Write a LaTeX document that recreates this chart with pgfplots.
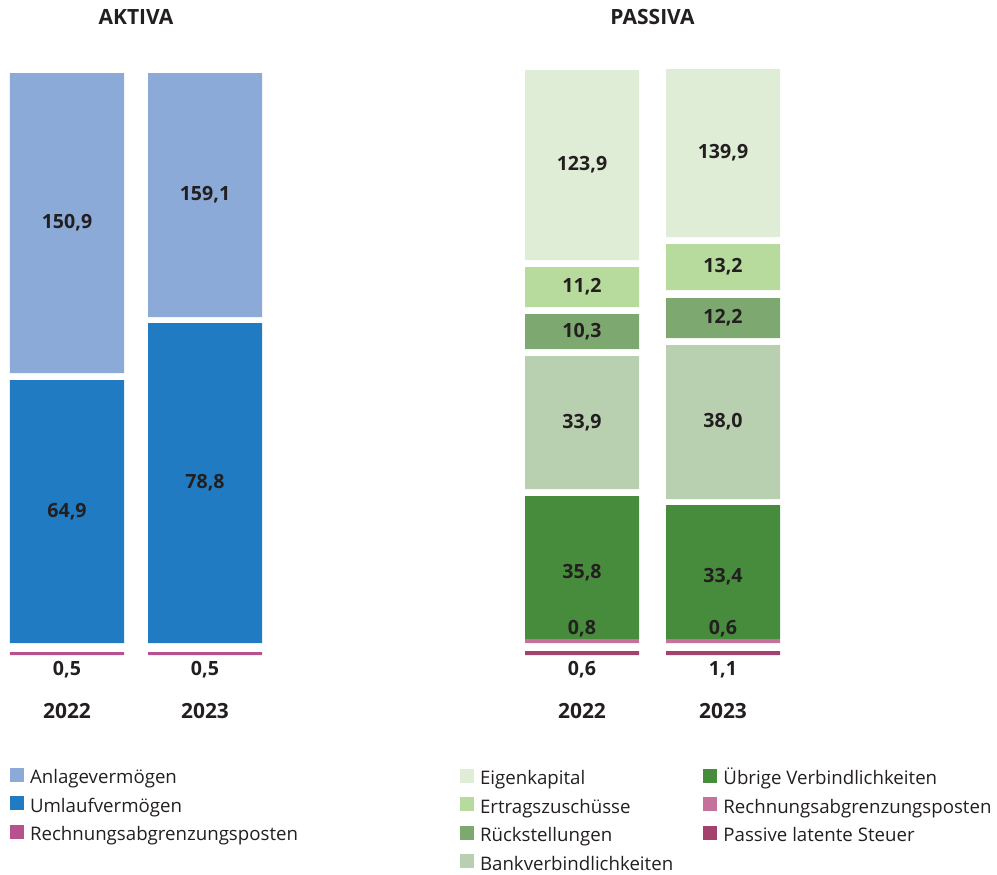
\documentclass[border=0pt]{standalone}
\usepackage{pgfplots}
\pgfplotsset{compat=1.18}
\usepackage{pgfplotstable}
\usepackage{fontspec}
\setmainfont{Open Sans}
\definecolor{txt}{HTML}{231F20}
\definecolor{anlage}{HTML}{8BAAD8}
\definecolor{umlauf}{HTML}{217BC2}
\definecolor{rapA}{HTML}{B8528C}
\definecolor{eigen}{HTML}{E0EDD6}
\definecolor{ertrag}{HTML}{B7DB9D}
\definecolor{rueck}{HTML}{7DA86F}
\definecolor{bank}{HTML}{B8CFB0}
\definecolor{uebrig}{HTML}{478C3C}
\definecolor{rapP}{HTML}{C4729B}
\definecolor{pls}{HTML}{A3426D}
\newcommand\labfont{\fontsize{14.7pt}{17pt}\selectfont\bfseries}
\newcommand\yearfont{\fontsize{15.7pt}{19pt}\selectfont\bfseries}
\newcommand\titlefont{\fontsize{15.75pt}{19pt}\selectfont\bfseries}
\newcommand\legfont{\fontsize{14pt}{17pt}\selectfont}
\pgfkeys{/pgf/number format/val/.style={fixed, fixed zerofill, precision=1, use comma, assume math mode=true}}

% AKTIVA: drawn segment heights (H, in px of the reference) and values (V)
\pgfplotstableread{
x rapH g1 uvH g2 avH rapV uvV avV
0 3 9 263 7 300 0.5 64.9 150.9
1 3 9 320 6 244 0.5 78.8 159.1
}\aktiva
% PASSIVA
\pgfplotstableread{
x plsH g1 rapH ubH g2 bkH g3 rsH g4 ezH g5 ekH plsV rapV ubV bkV rsV ezV ekV
0 4 8 4 143 7 133 7 35 7 40 7 190 0.6 0.8 35.8 33.9 10.3 11.2 123.9
1 4 8 4 134 6 154 7 40 8 46 7 168 1.1 0.6 33.4 38.0 12.2 13.2 139.9
}\passiva

\pgfplotsset{
  sqleg/.style={legend image code/.code={\fill[##1,draw=none] (0pt,-2.25pt) rectangle (10.5pt,8.25pt);}},
  gap/.style={draw=none, fill=none, forget plot},
  seg/.style={draw=none, fill=#1, forget plot},
  lab/.style={nodes near coords={\pgfmathprintnumber[val]{\pgfplotspointmeta}},
    point meta=\thisrow{#1V},
    every node near coord/.append style={anchor=center, font=\labfont, text=txt, inner sep=0pt}},
  base/.style={
    ybar stacked, bar width=85.5pt, y=0.75pt, ymin=0, ymax=630,
    axis line style={draw=none}, tick style={draw=none}, ytick=\empty,
    xtick={0,1}, xticklabels={2022,2023},
    xticklabel style={font=\yearfont, text=txt, anchor=center, yshift=-42pt},
    title style={at={(0.5,1)}, anchor=center, yshift=0pt, font=\titlefont, text=txt},
    clip=false, legend cell align=left,
  },
}

\begin{document}
\begin{tikzpicture}[x=0.75pt, y=0.75pt]
\path (0,0) rectangle (997,-873);

% ---------------- AKTIVA ----------------
\begin{axis}[base, x=103.5pt, xmin=-0.4855, xmax=1.4855,
  at={(0pt,-491.25pt)}, anchor=south west, title={AKTIVA},
  legend style={draw=none, fill=none, inner sep=0pt, outer sep=0pt,
    at={(axis cs:-0.413,-113)}, anchor=north west,
    nodes={inner sep=0pt, text height=10.5pt, text depth=3.5pt, font=\legfont, text=txt},
    row sep=6.1pt, column sep=0pt,
    /tikz/every odd column/.append style={column sep=4.5pt}},
]
\addplot[seg=rapA, lab=rap, every node near coord/.append style={yshift=-12.4pt}] table[x=x, y=rapH] {\aktiva};
\addplot[gap] table[x=x, y=g1] {\aktiva};
\addplot[seg=umlauf, lab=uv] table[x=x, y=uvH] {\aktiva};
\addplot[gap] table[x=x, y=g2] {\aktiva};
\addplot[seg=anlage, lab=av] table[x=x, y=avH] {\aktiva};
\addlegendimage{sqleg, fill=anlage, draw=none}\addlegendentry{Anlagevermögen}
\addlegendimage{sqleg, fill=umlauf, draw=none}\addlegendentry{Umlaufvermögen}
\addlegendimage{sqleg, fill=rapA, draw=none}\addlegendentry{Rechnungsabgrenzungsposten}
\end{axis}

% ---------------- PASSIVA ----------------
\begin{axis}[base, x=105.75pt, xmin=-0.5, xmax=1.5,
  at={(383.625pt,-491.25pt)}, anchor=south west, title={PASSIVA},
  legend columns=2,
  legend style={draw=none, fill=none, inner sep=0pt, outer sep=0pt,
    at={(axis cs:-0.865,-114)}, anchor=north west,
    nodes={inner sep=0pt, text height=10.5pt, text depth=3.5pt, font=\legfont, text=txt},
    row sep=6.1pt, column sep=0pt,
    /tikz/every odd column/.append style={column sep=4.5pt},
    /tikz/column 2/.style={column sep=22.7pt}},
]
\addplot[seg=pls, lab=pls, every node near coord/.append style={yshift=-12.75pt}] table[x=x, y=plsH] {\passiva};
\addplot[gap] table[x=x, y=g1] {\passiva};
\addplot[seg=rapP, lab=rap, every node near coord/.append style={yshift=9.4pt}] table[x=x, y=rapH] {\passiva};
\addplot[seg=uebrig, lab=ub, every node near coord/.append style={yshift=-3.75pt}] table[x=x, y=ubH] {\passiva};
\addplot[gap] table[x=x, y=g2] {\passiva};
\addplot[seg=bank, lab=bk] table[x=x, y=bkH] {\passiva};
\addplot[gap] table[x=x, y=g3] {\passiva};
\addplot[seg=rueck, lab=rs] table[x=x, y=rsH] {\passiva};
\addplot[gap] table[x=x, y=g4] {\passiva};
\addplot[seg=ertrag, lab=ez] table[x=x, y=ezH] {\passiva};
\addplot[gap] table[x=x, y=g5] {\passiva};
\addplot[seg=eigen, lab=ek] table[x=x, y=ekH] {\passiva};
\addlegendimage{sqleg, fill=eigen, draw=none}\addlegendentry{Eigenkapital}
\addlegendimage{sqleg, fill=uebrig, draw=none}\addlegendentry{Übrige Verbindlichkeiten}
\addlegendimage{sqleg, fill=ertrag, draw=none}\addlegendentry{Ertragszuschüsse}
\addlegendimage{sqleg, fill=rapP, draw=none}\addlegendentry{Rechnungsabgrenzungsposten}
\addlegendimage{sqleg, fill=rueck, draw=none}\addlegendentry{Rückstellungen}
\addlegendimage{sqleg, fill=pls, draw=none}\addlegendentry{Passive latente Steuer}
\addlegendimage{sqleg, fill=bank, draw=none}\addlegendentry{Bankverbindlichkeiten}
\end{axis}
\end{tikzpicture}
\end{document}
